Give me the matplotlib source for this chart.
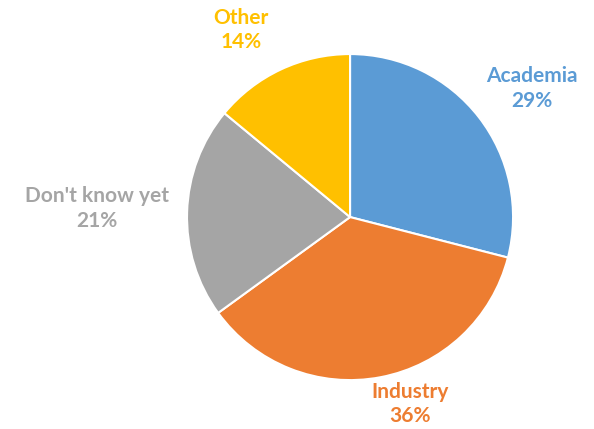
import matplotlib.pyplot as plt

categories = ['Academia', 'Industry', "Don't know yet", 'Other']
shares = [29, 36, 21, 14]
colors = ['#5B9BD5', '#ED7D31', '#A5A5A5', '#FFC000']
# where each label sits, in pie-radius units (x, y)
label_pos = [(1.117, 0.791), (0.368, -1.147), (-1.552, 0.055), (-0.669, 1.147)]

fig = plt.figure(figsize=(5.94, 4.29), dpi=100)
ax = fig.add_axes([0.3148, 0.114, 0.549, 0.760])

ax.pie(shares, colors=colors, startangle=90, counterclock=False,
       wedgeprops=dict(edgecolor='white', linewidth=1.5))
ax.set_xlim(-1, 1)
ax.set_ylim(-1, 1)
ax.set_aspect('equal')

for name, val, col, (lx, ly) in zip(categories, shares, colors, label_pos):
    ax.text(lx, ly, name + '\n' + str(val) + '%', color=col, ha='center', va='center',
            fontsize=15, fontweight='bold', family='Lato', linespacing=1.3)

fig.savefig('out.png', dpi=100)
